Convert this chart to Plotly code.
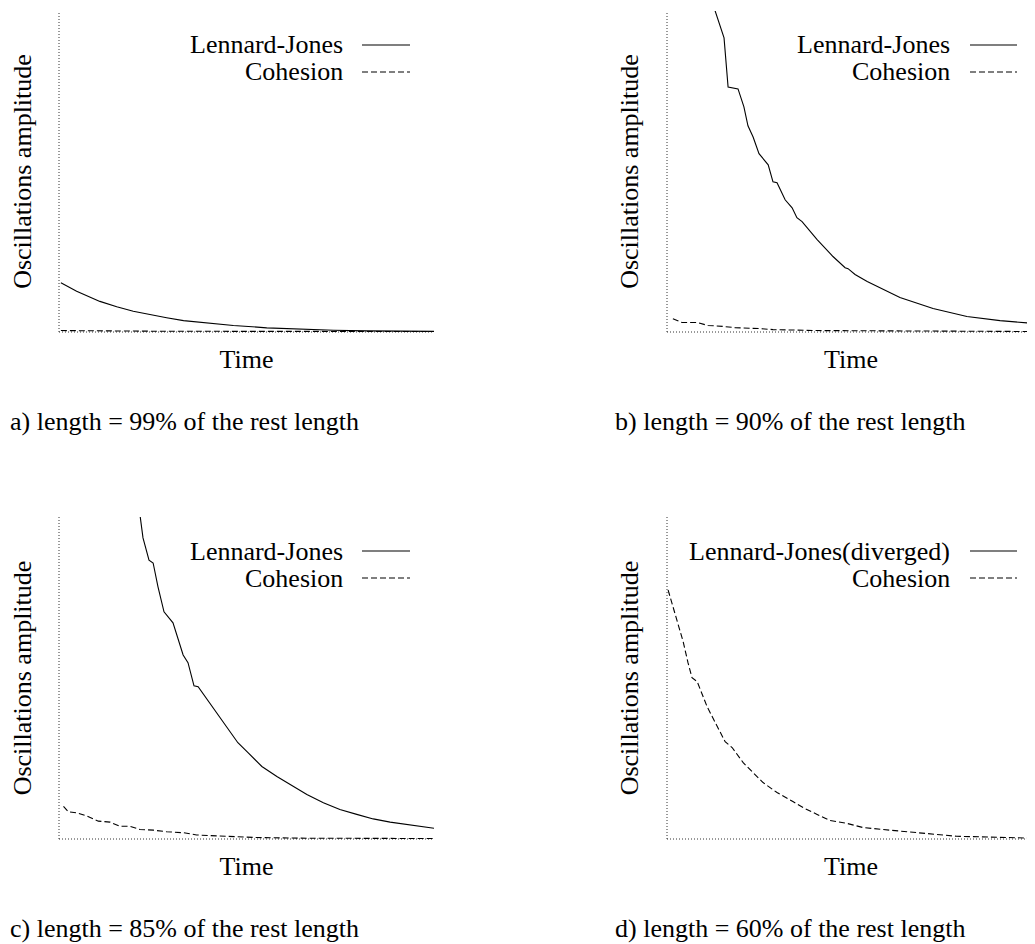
import plotly.graph_objects as go

# The page places the figure 8px from the top-left corner, so the figure is
# sized and positioned to compensate for that body margin.
OFF = 8
W, H = 1035 - OFF, 944 - OFF
FONT = "Liberation Serif"
FS = 26

# ---- data (time and amplitude in arbitrary units, 0-100) ----
# a) length = 99% of the rest length
time_a_lj = [0.5, 4.7, 10.9, 15.4, 19.8, 24.3, 28.7, 33.2, 37.6, 46.5, 55.4, 64.3, 73.2, 82.1, 100]
amp_a_lj = [15.2, 12.6, 9.4, 7.7, 6.3, 5.2, 4.3, 3.4, 2.9, 1.9, 1.15, 0.7, 0.4, 0.2, 0.05]
time_a_coh = [0.5, 10, 25, 50, 75, 100]
amp_a_coh = [0.3, 0.2, 0.1, 0.05, 0.02, 0.0]

# b) length = 90% of the rest length
time_b_lj = [13.0, 15.5, 16.6, 19.3, 20.9, 22.0, 23.4, 25.0, 27.5, 28.8, 29.9, 32.1, 34.0, 35.3,
             36.7, 40.8, 45.1, 48.4, 49.2, 51.1, 54.4, 58.7, 63.3, 72.3, 81.5, 90.5, 100]
amp_b_lj = [100.3, 91.6, 76.3, 75.7, 70.1, 64.2, 60.7, 55.5, 52.0, 46.7, 46.4, 41.1, 38.6, 35.5,
            34.3, 28.7, 23.4, 19.9, 19.6, 17.8, 15.6, 13.1, 10.6, 7.2, 4.7, 3.4, 2.5]
time_b_coh = [1.6, 4.1, 8.2, 11.1, 15.2, 18.5, 25.3, 28.8, 40.8, 63.3, 100]
amp_b_coh = [4.0, 2.8, 2.8, 1.9, 1.6, 1.2, 0.9, 0.6, 0.3, 0.1, 0.0]

# c) length = 85% of the rest length
time_c_lj = [21.6, 22.4, 24.0, 25.1, 26.4, 28.0, 30.4, 33.1, 34.4, 36.0, 37.1, 42.1, 47.7, 50.4,
             54.1, 58.1, 61.6, 66.1, 70.5, 74.9, 79.4, 83.8, 88.3, 92.7, 100]
amp_c_lj = [100.6, 93.5, 86.6, 85.7, 78.3, 70.5, 67.1, 57.1, 54.7, 47.5, 47.2, 39.1, 29.8, 26.7,
            22.4, 19.3, 16.8, 13.7, 11.1, 9.0, 7.5, 6.1, 5.1, 4.3, 3.2]
time_c_coh = [1.2, 2.5, 4.7, 7.4, 10.5, 13.6, 16.3, 18.9, 21.6, 25.2, 28.7, 33.2, 36.7, 43.8,
              52.7, 66.1, 100]
amp_c_coh = [10.0, 8.3, 8.0, 7.0, 5.4, 5.1, 3.8, 3.8, 2.8, 2.6, 2.1, 1.8, 1.1, 0.7, 0.3, 0.1, 0.0]

# d) length = 60% of the rest length (Lennard-Jones diverged: no curve)
time_d_lj = []
amp_d_lj = []
time_d_coh = [0.3, 2.2, 4.4, 5.7, 6.8, 8.2, 10.9, 13.0, 15.8, 17.7, 20.7, 26.1, 29.9, 34.2, 37.0,
              40.8, 44.3, 48.9, 53.3, 58.7, 61.5, 68.8, 78.7, 100]
amp_d_coh = [77.3, 70.2, 61.2, 54.7, 50.0, 48.8, 41.0, 36.3, 30.1, 28.3, 23.6, 17.4, 14.3, 11.5, 9.6,
             7.5, 5.6, 4.7, 3.4, 2.8, 2.5, 1.6, 0.7, 0.1]

panels = [
    dict(lj=(time_a_lj, amp_a_lj), coh=(time_a_coh, amp_a_coh), lj_name="Lennard-Jones",
         caption="a) length = 99% of the rest length"),
    dict(lj=(time_b_lj, amp_b_lj), coh=(time_b_coh, amp_b_coh), lj_name="Lennard-Jones",
         caption="b) length = 90% of the rest length"),
    dict(lj=(time_c_lj, amp_c_lj), coh=(time_c_coh, amp_c_coh), lj_name="Lennard-Jones",
         caption="c) length = 85% of the rest length"),
    dict(lj=(time_d_lj, amp_d_lj), coh=(time_d_coh, amp_d_coh), lj_name="Lennard-Jones(diverged)",
         caption="d) length = 60% of the rest length"),
]

# ---- layout geometry (window pixels) ----
# left, right, top, bottom of each plot area
boxes = [(59, 434, 11, 332), (667, 1035, 11, 332), (59, 434, 517, 839), (667, 1035, 517, 839)]
caption_x = [8, 613, 8, 613]


def px(x):
    return (x - OFF) / W


def py(y):
    return 1 - (y - OFF) / H


fig = go.Figure()
layout = dict(
    width=W, height=H, margin=dict(l=0, r=0, t=0, b=0),
    paper_bgcolor="white", plot_bgcolor="white",
    font=dict(family=FONT, size=FS, color="black"),
    showlegend=False,
)
shapes = []
annotations = []
DASH = "6px,3px"

for i, p in enumerate(panels):
    n = "" if i == 0 else str(i + 1)
    l, r, t, b = boxes[i]
    xa = dict(domain=[px(l), min(px(r), 1.0)], range=[0, 100], showgrid=False, zeroline=False,
              showticklabels=False, ticks="", showline=False, automargin=False,
              anchor="y" + n, fixedrange=True,
              title=dict(text="Time", standoff=17, font=dict(family=FONT, size=FS)))
    ya = dict(domain=[py(b), py(t)], range=[-0.15, 100], showgrid=False, zeroline=False,
              showticklabels=False, ticks="", showline=False, automargin=False,
              anchor="x" + n, fixedrange=True,
              title=dict(text="Oscillations amplitude", standoff=19, font=dict(family=FONT, size=FS)))
    layout["xaxis" + n] = xa
    layout["yaxis" + n] = ya

    fig.add_trace(go.Scatter(x=p["lj"][0], y=p["lj"][1], mode="lines", name=p["lj_name"],
                             line=dict(color="black", width=1.1), xaxis="x" + n, yaxis="y" + n))
    fig.add_trace(go.Scatter(x=p["coh"][0], y=p["coh"][1], mode="lines", name="Cohesion",
                             line=dict(color="black", width=1.1, dash=DASH), xaxis="x" + n, yaxis="y" + n))

    # dotted border (left and bottom)
    shapes.append(dict(type="line", xref="paper", yref="paper", x0=px(l), x1=px(l), y0=py(b), y1=py(t),
                       line=dict(color="#333", width=1, dash="1px,2px"), layer="below"))
    shapes.append(dict(type="line", xref="paper", yref="paper", x0=px(l), x1=min(px(r), 1.0),
                       y0=py(b), y1=py(b),
                       line=dict(color="#333", width=1, dash="1px,2px"), layer="below"))

    # key (text on the left, sample on the right)
    kx_text = 345 if i % 2 == 0 else 952
    kx0 = 362 if i % 2 == 0 else 970
    kx1 = 410 if i % 2 == 0 else 1017
    ky = [t + 34, t + 61]
    names = [p["lj_name"], "Cohesion"]
    dashes = ["solid", DASH]
    for k in range(2):
        annotations.append(dict(text=names[k], xref="paper", yref="paper", x=px(kx_text), y=py(ky[k]),
                                xanchor="right", yanchor="middle", showarrow=False,
                                font=dict(family=FONT, size=FS, color="black")))
        shapes.append(dict(type="line", xref="paper", yref="paper", x0=px(kx0), x1=px(kx1),
                           y0=py(ky[k]), y1=py(ky[k]), line=dict(color="black", width=1.1, dash=dashes[k])))

    # caption
    annotations.append(dict(text=p["caption"], xref="paper", yref="paper", x=px(caption_x[i]),
                            y=py(b + 89), xanchor="left", yanchor="middle", showarrow=False,
                            font=dict(family=FONT, size=FS, color="black")))

layout["shapes"] = shapes
layout["annotations"] = annotations
fig.update_layout(**layout)
fig.write_html("out.html")
